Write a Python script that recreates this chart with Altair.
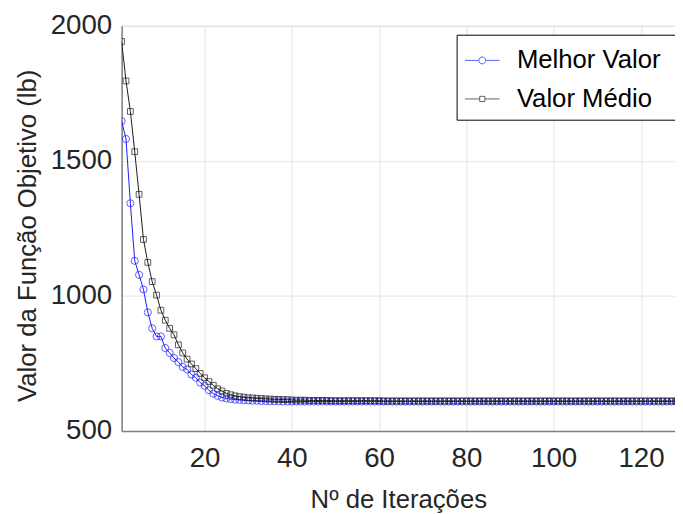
import altair as alt
import pandas as pd

iteracoes = list(range(1, 131))

melhor_valor = [
    1647, 1581, 1343, 1130, 1078, 1024, 939, 880, 850, 850,
    807, 789, 770, 755, 737, 728, 709, 697, 679, 667,
    651, 638, 630, 624, 620, 618, 616, 615, 614, 613,
    612, 612, 611, 611, 610, 610, 610, 609, 609, 609,
    609, 609, 609, 609, 609, 609, 609, 609, 609, 609,
    609, 609, 609, 609, 609, 609, 609, 609, 609, 609,
    609, 609, 609, 609, 609, 609, 609, 609, 609, 609,
    609, 609, 609, 609, 609, 609, 609, 609, 609, 609,
    609, 609, 609, 609, 609, 609, 609, 609, 609, 609,
    609, 609, 609, 609, 609, 609, 609, 609, 609, 609,
    609, 609, 609, 609, 609, 609, 609, 609, 609, 609,
    609, 609, 609, 609, 609, 609, 609, 609, 609, 609,
    609, 609, 609, 609, 609, 609, 609, 609, 609, 609,
]

valor_medio = [
    1942, 1796, 1683, 1534, 1376, 1209, 1124, 1053, 1003, 947,
    910, 880, 856, 819, 789, 766, 748, 731, 713, 697,
    683, 669, 656, 648, 639, 634, 630, 627, 625, 623,
    622, 621, 620, 619, 618, 617, 617, 616, 616, 615,
    614, 614, 614, 613, 613, 613, 613, 613, 612, 612,
    612, 612, 612, 612, 612, 612, 612, 612, 612, 612,
    611, 611, 611, 611, 611, 611, 611, 611, 611, 611,
    611, 611, 611, 611, 611, 611, 611, 611, 611, 611,
    611, 611, 611, 611, 611, 611, 611, 611, 611, 611,
    611, 611, 611, 611, 611, 611, 611, 611, 611, 611,
    611, 611, 611, 611, 611, 611, 611, 611, 611, 611,
    611, 611, 611, 611, 611, 611, 611, 611, 611, 611,
    611, 611, 611, 611, 611, 611, 611, 611, 611, 611,
]

series = ["Melhor Valor", "Valor Médio"]
x_ticks = [20, 40, 60, 80, 100, 120]
y_ticks = [500, 1000, 1500, 2000]

BLUE = "#1a1aff"
BLACK = "#1a1a1a"
FONT = "Liberation Sans"

df_best = pd.DataFrame({"it": iteracoes, "v": melhor_valor, "serie": series[0]})
df_mean = pd.DataFrame({"it": iteracoes, "v": valor_medio, "serie": series[1]})
df_all = pd.concat([df_best, df_mean])

x_enc = alt.X(
    "it:Q",
    scale=alt.Scale(domain=[1, 127.8], nice=False, zero=False),
    axis=alt.Axis(
        values=x_ticks, title="Nº de Iterações", grid=True, ticks=False, format="d",
        labelFontSize=28, titleFontSize=26, labelPadding=14, titlePadding=14,
        labelFont=FONT, titleFont=FONT, titleFontWeight="normal",
        labelColor="#262626", titleColor="#262626",
        domainColor="#808080", domainWidth=1.5, gridColor="#e3e3e3",
    ),
)
y_enc = alt.Y(
    "v:Q",
    scale=alt.Scale(domain=[500, 2000], nice=False, zero=False),
    axis=alt.Axis(
        values=y_ticks, title="Valor da Função Objetivo (lb)", grid=True, ticks=False, format="d",
        labelFontSize=28, titleFontSize=26, labelPadding=10, titlePadding=10, titleY=212,
        labelFont=FONT, titleFont=FONT, titleFontWeight="normal",
        labelColor="#262626", titleColor="#262626",
        domainColor="#808080", domainWidth=1.5, gridColor="#e3e3e3",
    ),
)

line_best = alt.Chart(df_best).mark_line(color=BLUE, strokeWidth=1, clip=True).encode(x=x_enc, y=y_enc)
pts_best = alt.Chart(df_best).mark_point(
    shape="circle", filled=False, size=52, color=BLUE, strokeWidth=1, clip=True
).encode(x=x_enc, y=y_enc)
line_mean = alt.Chart(df_mean).mark_line(color=BLACK, strokeWidth=1, clip=True).encode(x=x_enc, y=y_enc)
pts_mean = alt.Chart(df_mean).mark_point(
    shape="square", filled=False, size=34, color=BLACK, strokeWidth=1, clip=True
).encode(x=x_enc, y=y_enc)

path_circle = "M-1,0H-0.2M0.2,0H1M0.2,0A0.2,0.2,0,1,1,-0.2,0A0.2,0.2,0,1,1,0.2,0"
path_square = "M-1,0H-0.15M0.15,0H1M-0.15,-0.15H0.15V0.15H-0.15Z"
pad_chars = "\u2800"

legend_layer = alt.Chart(df_all).transform_filter("false").mark_point(filled=False, strokeWidth=1).encode(
    x=x_enc,
    y=y_enc,
    color=alt.Color(
        "serie:N",
        scale=alt.Scale(domain=series, range=[BLUE, BLACK]),
        legend=alt.Legend(
            title=None, orient="none", legendX=339, legendY=9,
            symbolSize=1225, symbolStrokeWidth=1, labelFontSize=26, labelFont=FONT,
            labelColor="#000000", labelOffset=17, rowPadding=8, padding=8,
            labelLimit=400,
            strokeColor="#000000", fillColor="#ffffff",
            labelExpr="datum.label + '" + pad_chars + "'",
        ),
    ),
    shape=alt.Shape(
        "serie:N",
        scale=alt.Scale(domain=series, range=[path_circle, path_square]),
    ),
)

chart = alt.layer(line_best, pts_best, line_mean, pts_mean, legend_layer).properties(
    width=560,
    height=410,
    autosize=alt.AutoSizeParams(type="none"),
    padding={"left": 115, "top": 15, "right": 0, "bottom": 81},
).configure_view(stroke=None).configure(background="#ffffff")

chart.save("out.html", embed_options={"renderer": "svg", "actions": False})
